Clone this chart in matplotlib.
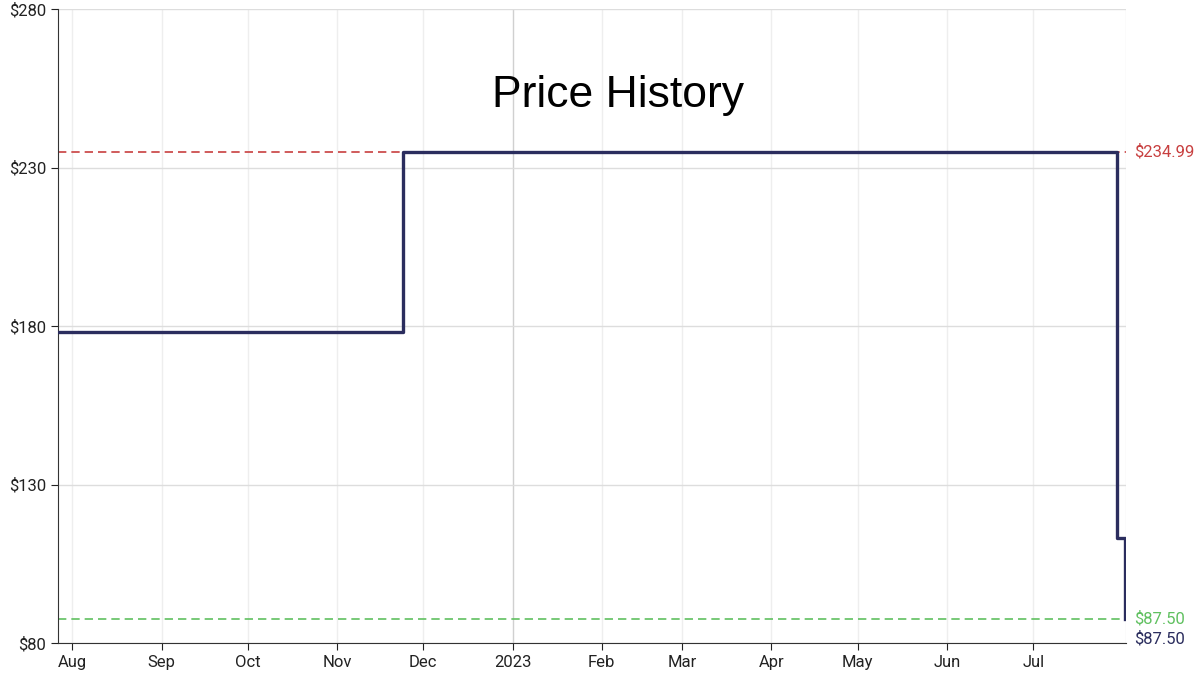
import matplotlib
matplotlib.use("Agg")
import matplotlib.pyplot as plt
import pandas as pd

plt.rcParams['font.family'] = ['Roboto', 'DejaVu Sans']

dates = pd.to_datetime(["2022-07-27", "2022-11-24", "2023-07-30", "2023-08-02"])
prices = [177.99, 234.99, 112.99, 87.50]
highest = 234.99
lowest = 87.50
current = 87.50
x_start, x_end = pd.Timestamp("2022-07-27"), pd.Timestamp("2023-08-02 06:00")
month_ticks = pd.date_range("2022-08-01", "2023-07-01", freq="MS")
tick_labels = ["Aug", "Sep", "Oct", "Nov", "Dec", "2023", "Feb", "Mar", "Apr", "May", "Jun", "Jul"]

fig = plt.figure(figsize=(12, 6.81), dpi=100)
ax = fig.add_axes([58/1200, 1-643/681, (1126-58)/1200, (643-9)/681])

ax.step(list(dates), prices, where="post", color="#2b2d5e", lw=2.4, zorder=3)

ax.axhline(highest, color="#c84040", ls=(0, (5, 3)), lw=1.2, zorder=2)
ax.axhline(lowest, color="#60c060", ls=(0, (5, 3)), lw=1.2, zorder=2)

ax.set_xlim(x_start, x_end)
ax.set_ylim(80, 280)
ax.set_yticks([80, 130, 180, 230, 280])
ax.set_yticklabels([f"${v}" for v in [80, 130, 180, 230, 280]])
ax.set_xticks(month_ticks)
ax.set_xticklabels(tick_labels)
ax.tick_params(labelsize=12, colors="#222222", length=5)

ax.grid(axis="y", color="#dddddd", lw=1)
for d in month_ticks:
    ax.axvline(d, color="#d0d0d0" if d.month == 1 else "#eeeeee", lw=1, zorder=0)
ax.axvline(x_end, color="#eeeeee", lw=1, zorder=0)

for s in ["top", "right"]:
    ax.spines[s].set_visible(False)
for s in ["left", "bottom"]:
    ax.spines[s].set_color("#333333")

ax.text(1.008, highest, f"${highest:.2f}", transform=ax.get_yaxis_transform(),
        color="#c84040", fontsize=12, va="center", ha="left")
ax.text(1.008, lowest, f"${lowest:.2f}", transform=ax.get_yaxis_transform(),
        color="#60c060", fontsize=12, va="center", ha="left")
ax.text(1.008, current - 6.3, f"${current:.2f}", transform=ax.get_yaxis_transform(),
        color="#2b2d5e", fontsize=12, va="center", ha="left")

fig.text(618/1200, 1-95/681, "Price History", fontsize=32, ha="center", va="center",
         family=["Liberation Sans", "DejaVu Sans"])

fig.savefig("out.png", dpi=100)
